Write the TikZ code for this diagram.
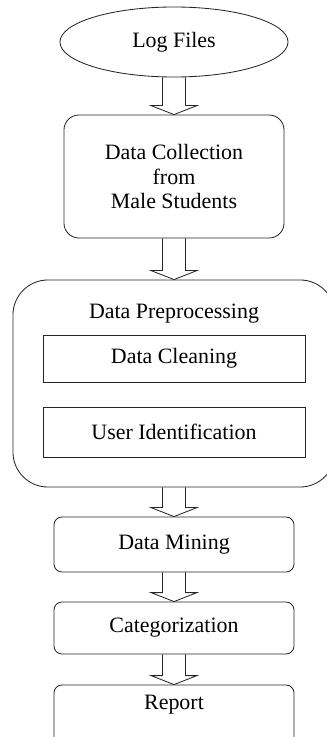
\documentclass[tikz,border=0pt]{standalone}
\usepackage{fontspec}
\setmainfont{Liberation Serif}
\usetikzlibrary{calc,shapes.geometric}

% open block arrow from the bottom of one node to the top of the next
\newcommand{\blockarrow}[2]{%
  \draw[flowline] ($(#1.south)+(-11.5,0)$) -- ($(#2.north)+(-11.5,-9)$)
    -- ($(#2.north)+(-23,-9)$) -- (#2.north) -- ($(#2.north)+(23,-9)$)
    -- ($(#2.north)+(11.5,-9)$) -- ($(#1.south)+(11.5,0)$);}

\tikzset{
  flowline/.style={line width=0.6pt,draw=black!85,line join=miter},
  flowtext/.style={font=\fontsize{15.6}{17.4}\selectfont,align=center,inner sep=0pt},
  stepbox/.style={flowline,flowtext,rectangle,rounded corners=0.2cm,minimum width=6cm},
  subbox/.style={flowline,flowtext,rectangle,minimum width=6.55cm}
}

\begin{document}
\begin{tikzpicture}[x=0.025cm,y=-0.025cm]
\useasboundingbox (0,0) rectangle (327,737);
% source
\node[flowline,flowtext,ellipse,minimum width=5.7cm,minimum height=1.75cm] (logs) at (174,42) {Log Files};
% collection
\node[stepbox,rounded corners=0.375cm,minimum width=5.5cm,minimum height=3.075cm] (collect) at (174,176.5)
  {Data Collection\\from\\Male Students};
% preprocessing group with its two steps
\node[flowline,rectangle,rounded corners=0.875cm,minimum width=8.05cm,minimum height=5.175cm] (prep) at (174,383.5) {};
\node[flowtext] (preptitle) at (174,314) {Data Preprocessing};
\node[subbox,minimum height=1.175cm] (clean) at (174,358.5) {Data Cleaning};
\node[subbox,minimum height=1.25cm] (userid) at (174,432) {User Identification};
% later steps
\node[stepbox,minimum height=1.375cm] (mining) at (174,544.5) {Data Mining};
\node[stepbox,minimum height=1.3cm] (categ) at (174,628) {Categorization};
\node[stepbox,minimum height=1.5cm,text depth=0.62cm] (report) at (174,715) {Report};
% arrows
\blockarrow{logs}{collect}
\blockarrow{collect}{prep}
\blockarrow{prep}{mining}
\blockarrow{mining}{categ}
\blockarrow{categ}{report}
\end{tikzpicture}
\end{document}
